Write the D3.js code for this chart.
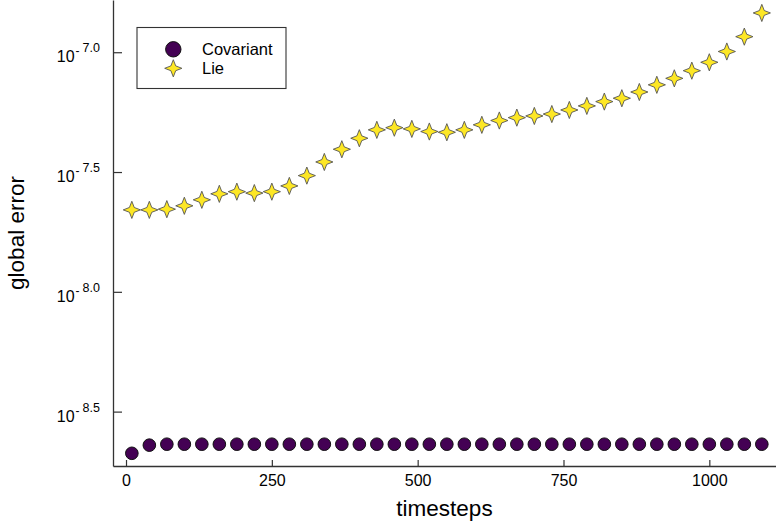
<!DOCTYPE html>
<html>
<head>
<meta charset="utf-8">
<script src="https://cdn.jsdelivr.net/npm/d3@7"></script>
<style>
    body { margin: 0; background: #fff; }
    svg { display: block; font-family: "Liberation Sans", Arial, sans-serif; }
</style>
</head>
<body>
<div id="chart"></div>
<script>
// x values shared by both series
const timesteps = [10, 40, 70, 100, 130, 160, 190, 220, 250, 280, 310, 340, 370, 400, 430, 460, 490, 520, 550,
    580, 610, 640, 670, 700, 730, 760, 790, 820, 850, 880, 910, 940, 970, 1000, 1030, 1060, 1090];

// log10 of the global error
const covariantLogErr = [-8.674, -8.640, -8.636, -8.636, -8.636, -8.636, -8.636, -8.636, -8.636, -8.636,
    -8.636, -8.636, -8.636, -8.636, -8.636, -8.636, -8.636, -8.636, -8.636, -8.636, -8.636, -8.636, -8.636,
    -8.636, -8.636, -8.636, -8.636, -8.636, -8.636, -8.636, -8.636, -8.636, -8.636, -8.636, -8.636, -8.636, -8.636];
const lieLogErr = [-7.658, -7.658, -7.655, -7.641, -7.616, -7.591, -7.582, -7.588, -7.582, -7.558, -7.515,
    -7.458, -7.405, -7.359, -7.324, -7.315, -7.320, -7.331, -7.334, -7.324, -7.303, -7.285, -7.273, -7.266,
    -7.258, -7.241, -7.224, -7.206, -7.192, -7.166, -7.136, -7.109, -7.077, -7.042, -6.997, -6.935, -6.836];

const xTicks = [0, 250, 500, 750, 1000];
const yTicks = [-8.5, -8.0, -7.5, -7.0];
const seriesNames = ["Covariant", "Lie"];

const width = 776;
const height = 528;
const left = 113;
const bottom = 466;

const purple = "#440154";
const yellow = "#fde725";
const axisColor = "#333";

const svg = d3.select("#chart")
    .append("svg")
    .attr("width", width)
    .attr("height", height);

const x = d3.scaleLinear().domain([-22.3, 1114.3]).range([left, width]);
const y = d3.scaleLinear().domain([-8.727, -6.782]).range([bottom, 0]);

// four pointed star, concave sides
const starPath = (R, r) => {
    const pts = [];
    for (let i = 0; i < 8; i++) {
        const a = -Math.PI / 2 + i * Math.PI / 4;
        const rad = i % 2 === 0 ? R : r;
        pts.push([rad * Math.cos(a), rad * Math.sin(a)]);
    }
    return "M" + pts.map(p => p.join(",")).join("L") + "Z";
};

// axes
const xAxis = svg.append("g")
    .attr("transform", `translate(0,${bottom})`)
    .call(d3.axisBottom(x).tickValues(xTicks).tickFormat(d3.format("d"))
        .tickSize(-6).tickSizeOuter(0).tickPadding(8.6));

const yAxis = svg.append("g")
    .attr("transform", `translate(${left},0)`)
    .call(d3.axisLeft(y).tickValues(yTicks).tickSize(-9).tickSizeOuter(0).tickPadding(13));

[xAxis, yAxis].forEach(g => {
    g.attr("font-family", null).attr("font-size", null);
    g.select(".domain").attr("stroke", axisColor).attr("stroke-width", 1.3);
    g.selectAll(".tick line").attr("stroke", axisColor).attr("stroke-width", 1.2);
    g.selectAll(".tick text").attr("fill", "#000").style("font-size", "16px");
});

// y labels as 10^{-n}
yAxis.selectAll(".tick text")
    .attr("dy", 9.4)
    .text(null)
    .each(function (d) {
        const t = d3.select(this);
        t.append("tspan").text("10");
        t.append("tspan").attr("dx", 1).attr("dy", -6.8).style("font-size", "12px").text("-");
        t.append("tspan").attr("dx", 3).attr("dy", -2.9).style("font-size", "12.5px").text(Math.abs(d).toFixed(1));
    });

// axis titles
svg.append("text")
    .attr("x", (left + width) / 2)
    .attr("y", 516)
    .attr("text-anchor", "middle")
    .style("font-size", "22.5px")
    .text("timesteps");

svg.append("text")
    .attr("transform", `translate(24,${bottom / 2}) rotate(-90)`)
    .attr("text-anchor", "middle")
    .style("font-size", "22.5px")
    .text("global error");

// series
svg.append("g")
    .selectAll("circle")
    .data(timesteps)
    .enter()
    .append("circle")
    .attr("cx", (d) => x(d))
    .attr("cy", (d, i) => y(covariantLogErr[i]))
    .attr("r", 6.3)
    .attr("fill", purple)
    .attr("stroke", "#111")
    .attr("stroke-width", 1);

svg.append("g")
    .selectAll("path")
    .data(timesteps)
    .enter()
    .append("path")
    .attr("d", starPath(8.6, 3.4))
    .attr("transform", (d, i) => `translate(${x(d)},${y(lieLogErr[i])})`)
    .attr("fill", yellow)
    .attr("stroke", "#555")
    .attr("stroke-width", 0.9);

// legend
const legend = svg.append("g");
legend.append("rect")
    .attr("x", 137)
    .attr("y", 27.5)
    .attr("width", 149)
    .attr("height", 61)
    .attr("fill", "#fff")
    .attr("stroke", axisColor)
    .attr("stroke-width", 1.1);

legend.append("circle")
    .attr("cx", 173.3)
    .attr("cy", 49.3)
    .attr("r", 7.7)
    .attr("fill", purple)
    .attr("stroke", "#111");

legend.append("path")
    .attr("d", starPath(8.6, 3.4))
    .attr("transform", "translate(173.3,68.3)")
    .attr("fill", yellow)
    .attr("stroke", "#555")
    .attr("stroke-width", 0.9);

legend.selectAll("text")
    .data(seriesNames)
    .enter()
    .append("text")
    .attr("x", 202)
    .attr("y", (d, i) => 49.3 + i * 19 + 5.8)
    .style("font-size", "16.5px")
    .text((d) => d);
</script>
</body>
</html>
